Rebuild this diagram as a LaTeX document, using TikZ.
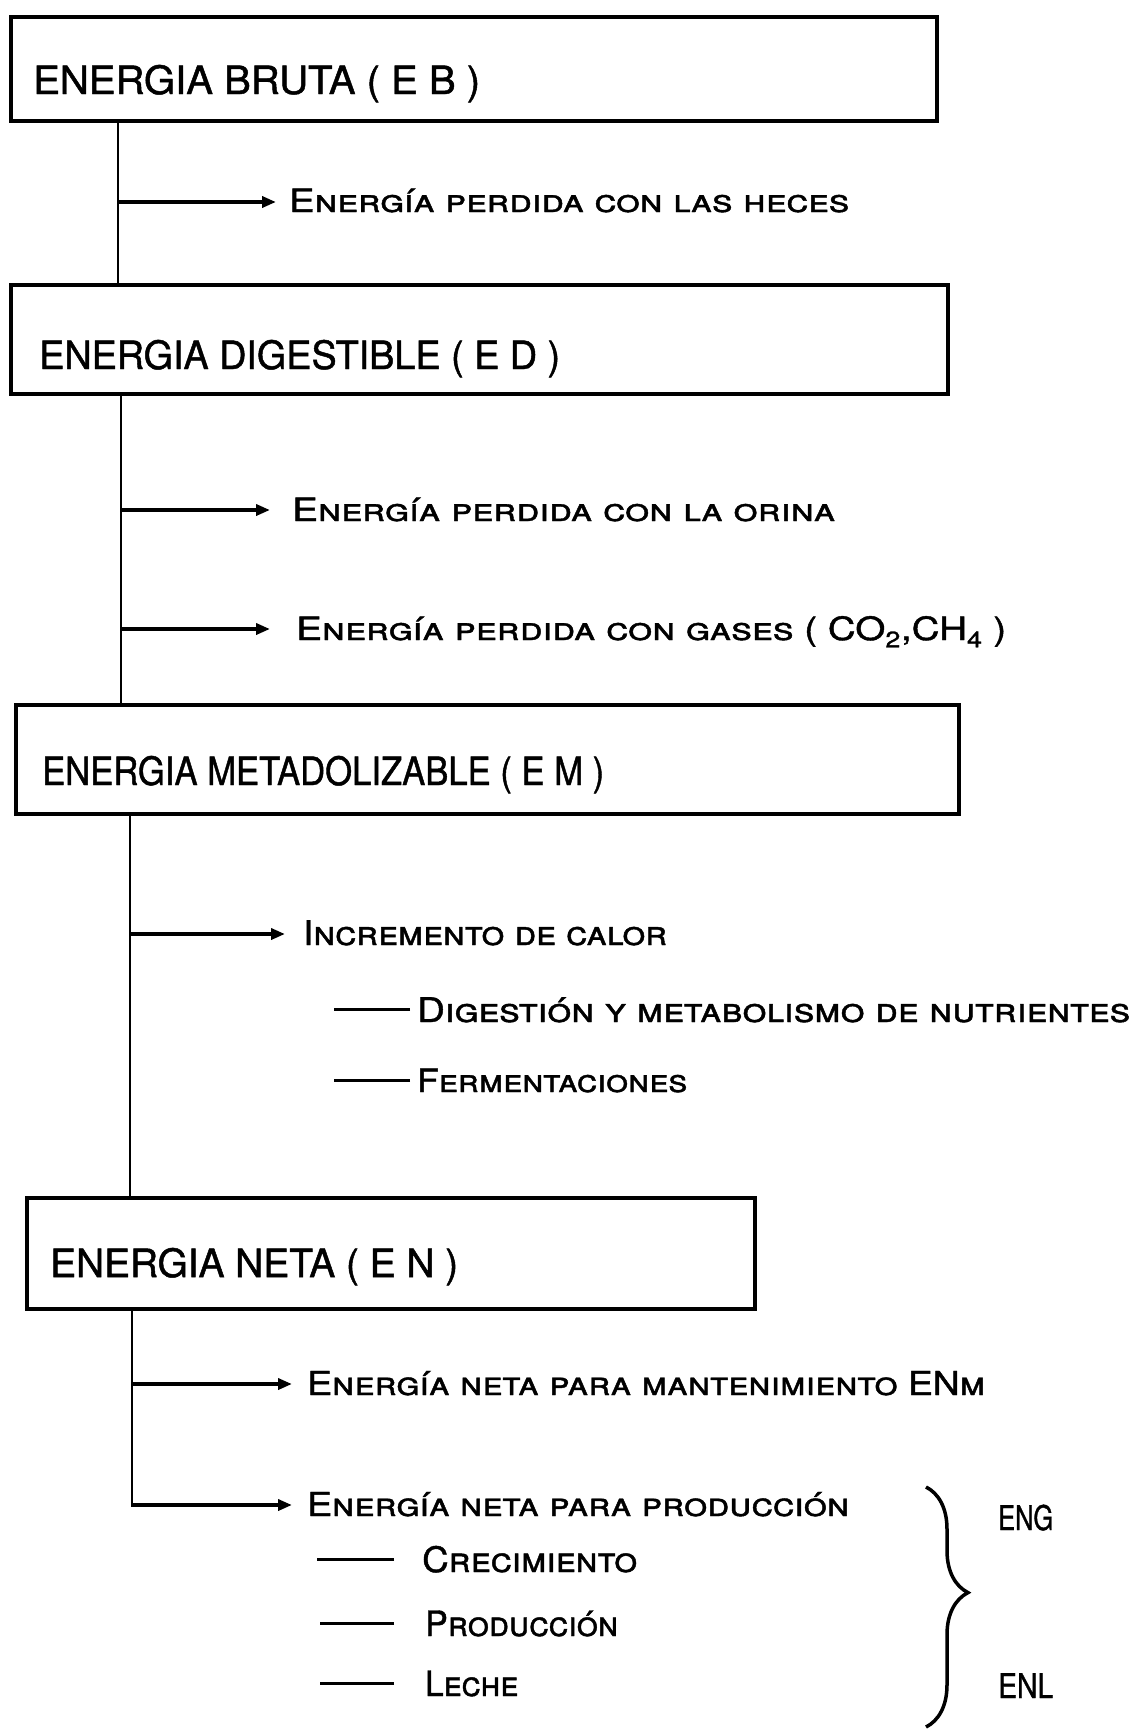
\documentclass[tikz,border=0pt]{standalone}
\usepackage{fontspec}
\setmainfont{TeX Gyre Heros}[FakeBold=1.2]
\usetikzlibrary{arrows.meta,decorations.pathreplacing}
\newcommand\fitw[3]{\resizebox{#1pt}{\height}{\fontsize{#2}{#2}\selectfont #3}}
\begin{document}
\begin{tikzpicture}[x=1pt,y=-1pt,
  box/.style={draw,line width=4pt,minimum width=#1,minimum height=10pt,anchor=north west,inner sep=0pt},
  ttl/.style={anchor=base west,inner sep=0pt},
  lbl/.style={anchor=base west,inner sep=0pt,font=\scshape},
  trunk/.style={line width=2pt},
  arr/.style={line width=3.5pt,-{Triangle[length=14pt,width=11pt]}},
  dashln/.style={line width=3pt},
  brc/.style={line width=3.5pt,decorate,decoration={brace,amplitude=42pt,aspect=0.44}}]
\useasboundingbox (0,0) rectangle (1136,1729);
% boxes
\node[box, minimum width=926pt, minimum height=104pt] (b1) at (9,15) {};
\node[box, minimum width=937pt, minimum height=109pt] (b2) at (9,283) {};
\node[box, minimum width=943pt, minimum height=109pt] (b3) at (14,703) {};
\node[box, minimum width=728pt, minimum height=111pt] (b4) at (25,1196) {};
\node[ttl] (t1) at (33,94) {\fitw{447}{39}{ENERGIA BRUTA ( E B )}};
\node[ttl] (t2) at (39,369) {\fitw{521}{39}{ENERGIA DIGESTIBLE ( E D )}};
\node[ttl] (t3) at (42,785) {\fitw{562}{39}{ENERGIA METADOLIZABLE ( E M )}};
\node[ttl] (t4) at (50,1277) {\fitw{408}{39}{ENERGIA NETA ( E N )}};
% labels
\node[lbl] (a1) at (289,212) {\fitw{560}{32}{Energía perdida con las heces}};
\node[lbl] (a2) at (292,521) {\fitw{543}{32}{Energía perdida con la orina}};
\node[lbl] (a3) at (296,640) {\fitw{710}{32}{Energía perdida con gases ( CO\textsubscript{2},CH\textsubscript{4} )}};
\node[lbl] (a4) at (303,945) {\fitw{364}{34}{Incremento de calor}};
\node[lbl] (d1) at (417,1022) {\fitw{713}{34}{Digestión y metabolismo de nutrientes}};
\node[lbl] (d2) at (417,1092) {\fitw{270}{32}{Fermentaciones}};
\node[lbl] (a5) at (307,1395) {\fitw{678}{33}{Energía neta para mantenimiento ENm}};
\node[lbl] (a6) at (307,1516) {\fitw{542}{33}{Energía neta para producción}};
\node[lbl] (c1) at (422,1572) {\fitw{215}{35}{Crecimiento}};
\node[lbl] (c2) at (425,1636) {\fitw{193}{35}{Producción}};
\node[lbl] (c3) at (425,1696) {\fitw{93}{35}{Leche}};
\node[ttl] (eng) at (998,1530) {\fitw{55}{34}{ENG}};
\node[ttl] (enl) at (998,1698) {\fitw{55}{34}{ENL}};
% junctions
\coordinate (j1) at (118,202);
\coordinate (j2) at (121,510);
\coordinate (j3) at (121,629);
\coordinate (j4) at (130,934);
\coordinate (j5) at (132,1384);
\coordinate (j6) at (132,1505);
% trunk
\draw[trunk] (j1 |- b1.south) -- (j1 |- b2.north);
\draw[trunk] (j2 |- b2.south) -- (j2 |- b3.north);
\draw[trunk] (j4 |- b3.south) -- (j4 |- b4.north);
\draw[trunk] (j5 |- b4.south) -- (j6);
% arrows
\draw[arr] (j1) -- ([xshift=-13pt]j1 -| a1.west);
\draw[arr] (j2) -- ([xshift=-22pt]j2 -| a2.west);
\draw[arr] (j3) -- ([xshift=-26pt]j3 -| a3.west);
\draw[arr] (j4) -- ([xshift=-18pt]j4 -| a4.west);
\draw[arr] (j5) -- ([xshift=-15pt]j5 -| a5.west);
\draw[arr] ([xshift=-1pt]j6) -- ([xshift=-15pt]j6 -| a6.west);
% dashes
\draw[dashln] ([xshift=-7pt]d1.west) -- ++(-76,0);
\draw[dashln] ([xshift=-7pt]d2.west) -- ++(-76,0);
\draw[dashln] ([xshift=-28pt]c1.west) -- ++(-77,0);
\draw[dashln] ([xshift=-31pt]c2.west) -- ++(-74,0);
\draw[dashln] ([xshift=-31pt]c3.west) -- ++(-74,0);
% brace
\coordinate (brtop) at (926,1487);
\coordinate (brbot) at (926,1727);
\draw[brc] (brtop) -- (brbot);
\end{tikzpicture}
\end{document}
